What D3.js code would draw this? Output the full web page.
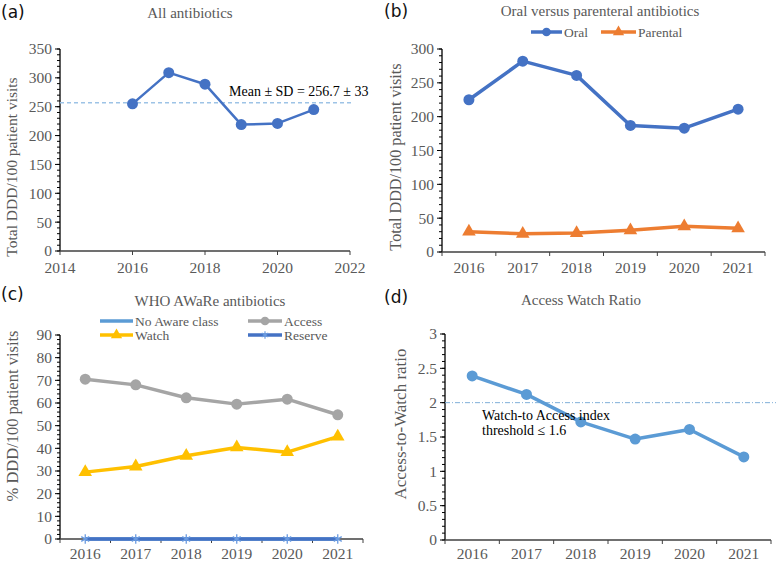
<!DOCTYPE html>
<html><head><meta charset="utf-8">
<script src="https://cdn.jsdelivr.net/npm/d3@7"></script>
<style>
body{margin:0;background:#fff;}
svg{display:block;}
text{font-family:"Liberation Serif","Times New Roman",serif;}
</style></head>
<body><svg id="c" width="776" height="562"></svg>
<script>
const yearsA = [2016, 2017, 2018, 2019, 2020, 2021];
const totalA = [255, 309, 289, 219, 221, 245];
const meanA = 256.7;
const xTicksA = [2014, 2016, 2018, 2020, 2022];
const yTicksA = [0, 50, 100, 150, 200, 250, 300, 350];

const years = ["2016", "2017", "2018", "2019", "2020", "2021"];
const oral = [225, 282, 261, 187, 183, 211];
const parenteral = [30, 27, 28, 32, 38, 35];
const yTicksB = [0, 50, 100, 150, 200, 250, 300];

const noAware = [0, 0, 0, 0, 0, 0];
const access = [70.5, 68, 62.3, 59.5, 61.7, 54.8];
const watch = [29.5, 32, 36.7, 40.4, 38.3, 45.2];
const reserve = [0, 0, 0, 0, 0, 0];
const yTicksC = [0, 10, 20, 30, 40, 50, 60, 70, 80, 90];

const ratio = [2.39, 2.12, 1.72, 1.47, 1.61, 1.21];
const threshold = 2;
const yTicksD = [0, 0.5, 1, 1.5, 2, 2.5, 3];

const svg = d3.select("#c");
const GRAY = "#595959";
const BLUE = "#4472C4", ORANGE = "#ED7D31", LGRAY = "#A5A5A5", GOLD = "#FFC000", LBLUE = "#5B9BD5";

function yAxis(g, y, x0, ticks, minorStep, fmt) {
  const [d0, d1] = y.domain();
  const n = Math.round((d1 - d0) / minorStep);
  for (let i = 0; i <= n; i++) {
    const v = d0 + i * minorStep;
    g.append("line").attr("x1", x0 - 3).attr("x2", x0).attr("y1", y(v)).attr("y2", y(v))
      .attr("stroke", "#000").attr("stroke-width", 1);
  }
  ticks.forEach(t => {
    g.append("line").attr("x1", x0 - 5).attr("x2", x0).attr("y1", y(t)).attr("y2", y(t))
      .attr("stroke", "#000").attr("stroke-width", 1);
    g.append("text").attr("x", x0 - 8).attr("y", y(t)).attr("dy", "0.35em")
      .attr("text-anchor", "end").attr("font-size", 15.5).attr("fill", GRAY).text(fmt ? fmt(t) : t);
  });
  g.append("line").attr("x1", x0).attr("x2", x0).attr("y1", y.range()[0]).attr("y2", y.range()[1])
    .attr("stroke", "#000").attr("stroke-width", 1.3);
}

function bandXAxis(g, x, y0, labelY) {
  const r = x.range();
  g.append("line").attr("x1", r[0]).attr("x2", r[1]).attr("y1", y0).attr("y2", y0)
    .attr("stroke", "#404040").attr("stroke-width", 1.3);
  const step = x.step();
  for (let i = 0; i <= x.domain().length; i++) {
    const xx = r[0] + i * step;
    g.append("line").attr("x1", xx).attr("x2", xx).attr("y1", y0).attr("y2", y0 + 4)
      .attr("stroke", "#404040").attr("stroke-width", 1);
  }
  x.domain().forEach(d => {
    g.append("text").attr("x", x(d) + x.bandwidth() / 2).attr("y", labelY)
      .attr("text-anchor", "middle").attr("font-size", 15.5).attr("fill", GRAY).text(d);
  });
}

function yLabel(g, cx, cy, txt, size) {
  g.append("text").attr("transform", `translate(${cx},${cy}) rotate(-90)`)
    .attr("text-anchor", "middle").attr("dy", "0.35em").attr("font-size", size).attr("fill", GRAY).text(txt);
}
function title(g, cx, cy, txt) {
  g.append("text").attr("x", cx).attr("y", cy).attr("text-anchor", "middle")
    .attr("font-size", 15).attr("fill", GRAY).text(txt);
}
function panelLabel(g, x, y, txt) {
  g.append("text").attr("x", x).attr("y", y).attr("font-size", 17)
    .style("font-family", "'DejaVu Sans', sans-serif").attr("fill", "#111").text(txt);
}
function drawSeries(g, xs, ys, y, color, lw, marker, msize) {
  const pts = xs.map((xv, i) => [xv, y(ys[i])]);
  g.append("path").attr("d", d3.line()(pts)).attr("fill", "none").attr("stroke", color)
    .attr("stroke-width", lw).attr("stroke-linejoin", "round");
  if (marker) {
    pts.forEach(p => {
      const s = g.append("path").attr("transform", `translate(${p[0]},${p[1]})`)
        .attr("d", d3.symbol().type(marker).size(msize)());
      if (marker === d3.symbolAsterisk) s.attr("fill", "none").attr("stroke", "#6A9BE0").attr("stroke-width", 1.3);
      else s.attr("fill", color);
    });
  }
}
function legendItem(g, x1, x2, y, color, lw, marker, msize, txt) {
  g.append("line").attr("x1", x1).attr("x2", x2).attr("y1", y).attr("y2", y)
    .attr("stroke", color).attr("stroke-width", lw);
  if (marker) {
    const s = g.append("path").attr("transform", `translate(${(x1 + x2) / 2},${y})`)
      .attr("d", d3.symbol().type(marker).size(msize)());
    if (marker === d3.symbolAsterisk) s.attr("fill", "none").attr("stroke", "#6A9BE0").attr("stroke-width", 1.2);
    else s.attr("fill", color);
  }
  g.append("text").attr("x", x2 + 2).attr("y", y).attr("dy", "0.35em").attr("font-size", 13.5)
    .attr("fill", GRAY).text(txt);
}

// ---------- Panel (a)
{
  const g = svg.append("g");
  const x = d3.scaleLinear().domain([2014, 2022]).range([60, 350]);
  const y = d3.scaleLinear().domain([0, 350]).range([251, 49]);
  panelLabel(g, 1, 18, "(a)");
  title(g, 190, 18, "All antibiotics");
  yAxis(g, y, 60, yTicksA, 10);
  g.append("line").attr("x1", 60).attr("x2", 350).attr("y1", 251).attr("y2", 251)
    .attr("stroke", "#404040").attr("stroke-width", 1.3);
  xTicksA.forEach(t => {
    g.append("line").attr("x1", x(t)).attr("x2", x(t)).attr("y1", 251).attr("y2", 255).attr("stroke", "#404040");
    g.append("text").attr("x", x(t)).attr("y", 273).attr("text-anchor", "middle")
      .attr("font-size", 15.5).attr("fill", GRAY).text(t);
  });
  g.append("line").attr("x1", 60).attr("x2", 352).attr("y1", y(meanA)).attr("y2", y(meanA))
    .attr("stroke", "#9DC3E6").attr("stroke-width", 1.5).attr("stroke-dasharray", "4,3");
  g.append("text").attr("x", 229).attr("y", y(meanA) - 7).attr("font-size", 14).attr("fill", "#000")
    .text("Mean ± SD = 256.7 ± 33");
  drawSeries(g, yearsA.map(x), totalA, y, BLUE, 2.5, d3.symbolCircle, 95);
  yLabel(g, 12, 167, "Total DDD/100 patient visits", 15.5);
}

// ---------- Panel (b)
{
  const g = svg.append("g");
  const x = d3.scaleBand().domain(years).range([442, 765]);
  const y = d3.scaleLinear().domain([0, 300]).range([252, 49]);
  panelLabel(g, 384, 17, "(b)");
  title(g, 600, 16, "Oral versus parenteral antibiotics");
  legendItem(g, 531, 562, 32, BLUE, 3.5, d3.symbolCircle, 60, "Oral");
  legendItem(g, 601, 636, 32, ORANGE, 3.5, d3.symbolTriangle, 55, "Parental");
  yAxis(g, y, 442, yTicksB, 10);
  bandXAxis(g, x, 252, 273);
  const cx = years.map(d => x(d) + x.bandwidth() / 2);
  drawSeries(g, cx, parenteral, y, ORANGE, 3.5, d3.symbolTriangle, 80);
  drawSeries(g, cx, oral, y, BLUE, 3.5, d3.symbolCircle, 95);
  yLabel(g, 395, 157, "Total DDD/100 patient visits", 16.2);
}

// ---------- Panel (c)
{
  const g = svg.append("g");
  const x = d3.scaleBand().domain(years).range([60, 363]);
  const y = d3.scaleLinear().domain([0, 90]).range([539, 335]);
  panelLabel(g, 1, 300, "(c)");
  title(g, 210, 306, "WHO AWaRe antibiotics");
  legendItem(g, 100, 133, 321, LBLUE, 3.5, null, 0, "No Aware class");
  legendItem(g, 248, 282, 321, LGRAY, 3.5, d3.symbolCircle, 60, "Access");
  legendItem(g, 100, 133, 335, GOLD, 3.5, d3.symbolTriangle, 55, "Watch");
  legendItem(g, 248, 282, 335, BLUE, 3.5, d3.symbolAsterisk, 40, "Reserve");
  yAxis(g, y, 60, yTicksC, 2);
  bandXAxis(g, x, 539, 559);
  const cx = years.map(d => x(d) + x.bandwidth() / 2);
  drawSeries(g, cx, noAware, y, LBLUE, 3.5, null, 0);
  drawSeries(g, cx, access, y, LGRAY, 3.5, d3.symbolCircle, 95);
  drawSeries(g, cx, watch, y, GOLD, 3.5, d3.symbolTriangle, 80);
  drawSeries(g, cx, reserve, y, BLUE, 3.5, d3.symbolAsterisk, 60);
  yLabel(g, 12, 416, "% DDD/100 patient visits", 16.5);
}

// ---------- Panel (d)
{
  const g = svg.append("g");
  const x = d3.scaleBand().domain(years).range([445, 771]);
  const y = d3.scaleLinear().domain([0, 3]).range([540, 334]);
  panelLabel(g, 384, 303, "(d)");
  title(g, 581, 305, "Access Watch Ratio");
  yAxis(g, y, 445, yTicksD, 0.1, d => d);
  bandXAxis(g, x, 540, 559);
  g.append("line").attr("x1", 445).attr("x2", 776).attr("y1", y(threshold)).attr("y2", y(threshold))
    .attr("stroke", "#7FAFD8").attr("stroke-width", 1).attr("stroke-dasharray", "5,2,1,2");
  const cx = years.map(d => x(d) + x.bandwidth() / 2);
  drawSeries(g, cx, ratio, y, LBLUE, 3.5, d3.symbolCircle, 95);
  g.append("text").attr("x", 482).attr("y", 420).attr("font-size", 14).attr("fill", "#000").text("Watch-to Access index");
  g.append("text").attr("x", 482).attr("y", 435).attr("font-size", 14).attr("fill", "#000").text("threshold ≤ 1.6");
  yLabel(g, 400, 424, "Access-to-Watch ratio", 17);
}
</script></body></html>
